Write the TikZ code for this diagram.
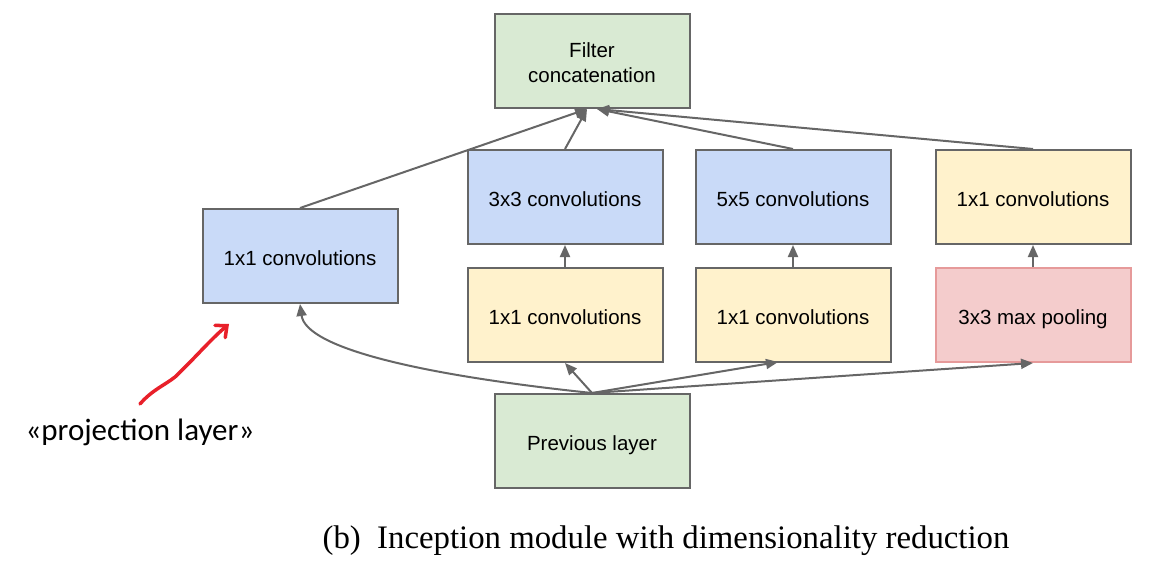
\documentclass[tikz,border=0pt]{standalone}
\usepackage{fontspec}
\setmainfont{Liberation Serif}
\setsansfont{Liberation Sans}
\newfontfamily\notefont{Carlito}
\usetikzlibrary{arrows.meta}
\definecolor{edgegray}{HTML}{666666}
\definecolor{fillblue}{HTML}{C9DAF8}
\definecolor{fillyellow}{HTML}{FFF2CC}
\definecolor{fillgreen}{HTML}{D9EAD3}
\definecolor{fillred}{HTML}{F4CCCC}
\definecolor{edgered}{HTML}{E69A9A}
\definecolor{penred}{HTML}{E8202A}
\tikzset{
  layer/.style={draw=edgegray, line width=2pt, minimum width=195pt, minimum height=94pt,
    inner sep=0pt, align=center, text height=21pt, text depth=2pt,
    font=\sffamily\fontsize{20.5}{25}\selectfont},
  twoline/.style={text height={}, text depth={}},
  bluebox/.style={layer, fill=fillblue},
  yellowbox/.style={layer, fill=fillyellow},
  greenbox/.style={layer, fill=fillgreen},
  redbox/.style={layer, fill=fillred, draw=edgered},
  flow/.style={draw=edgegray, line width=2pt, -{Triangle[length=12pt,width=10pt]}},
}
\begin{document}
\begin{tikzpicture}[x=1pt,y=-1pt]
\useasboundingbox (0,0) rectangle (1165,562);

% layers of the module
\node[greenbox, twoline] (concat) at (592,61) {\rule{0pt}{19pt}Filter\\concatenation};
\node[bluebox]   (proj)   at (300,256)  {1x1 convolutions};
\node[bluebox]   (c3)     at (565,197)  {3x3 convolutions};
\node[bluebox]   (c5)     at (793,197)  {5x5 convolutions};
\node[yellowbox] (cpool)  at (1033,197) {1x1 convolutions};
\node[yellowbox] (r3)     at (565,315)  {1x1 convolutions};
\node[yellowbox] (r5)     at (793,315)  {1x1 convolutions};
\node[redbox]    (pool)   at (1033,315) {3x3 max pooling};
\node[greenbox]  (prev)   at (592,441)  {Previous layer};

% inputs into the concatenation
\coordinate (inL) at ([xshift=-5pt]concat.south);
\coordinate (inR) at ([xshift=5pt]concat.south);
\coordinate (r5in) at (778,362);

% previous layer to the four branches
\draw[flow] (prev.north) .. controls (420,375) and (306,348) .. (proj.south);
\draw[flow] (prev.north) -- (r3.south);
\draw[flow] (prev.north) -- (r5in);
\draw[flow] (prev.north) -- (pool.south);

% inside the branches
\draw[flow] (r3.north) -- (c3.south);
\draw[flow] (r5.north) -- (c5.south);
\draw[flow] (pool.north) -- (cpool.south);

% branches to the concatenation
\draw[flow] (proj.north) -- (inL);
\draw[flow] (c3.north) -- (inL);
\draw[flow] (c5.north) -- (inR);
\draw[flow] (cpool.north) -- (inR);

% note on the projection layer
\coordinate (penStart) at (140,404);
\coordinate (penTip) at (229,324);
\draw[penred, line width=3.5pt, line cap=round, -{Straight Barb[length=9pt,width=16pt,line cap=round]}]
  (penStart) .. controls (152,390) and (165,385) .. (175,377)
  .. controls (195,358) and (210,340) .. (penTip);
\node[font=\notefont\fontsize{31}{36}\selectfont, anchor=west] (note) at (22,432) {«projection layer»};

% caption
\node[font=\fontsize{32.8}{38}\selectfont] (caption) at (666,541) {(b)\enspace Inception module with dimensionality reduction};
\end{tikzpicture}
\end{document}
